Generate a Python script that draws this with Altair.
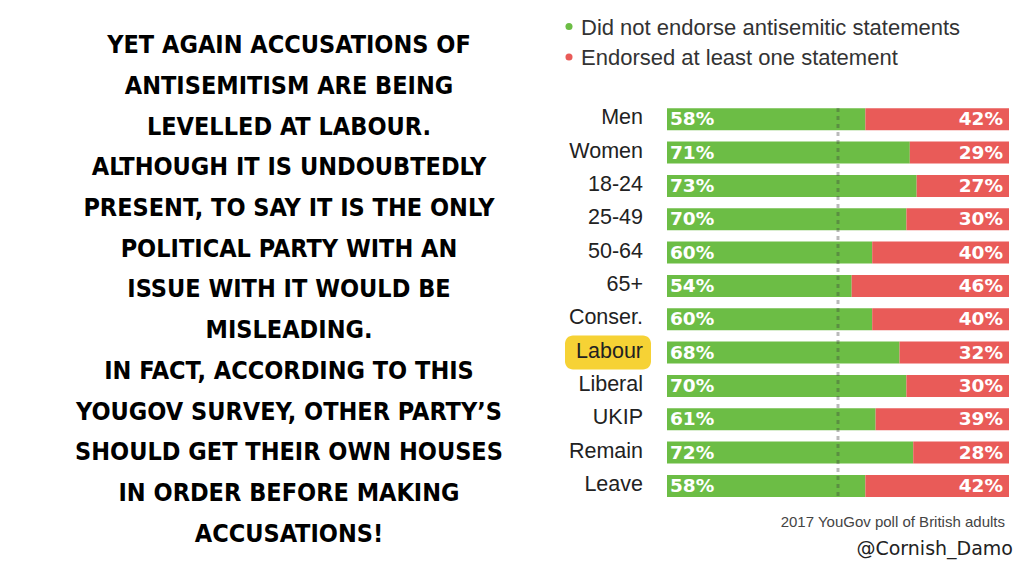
import altair as alt
import pandas as pd

# ---- data ----
categories = ["Men", "Women", "18-24", "25-49", "50-64", "65+", "Conser.",
              "Labour", "Liberal", "UKIP", "Remain", "Leave"]
not_endorsed = [58, 71, 73, 70, 60, 54, 60, 68, 70, 61, 72, 58]
endorsed = [42, 29, 27, 30, 40, 46, 40, 32, 30, 39, 28, 42]
series_names = ["Did not endorse antisemitic statements", "Endorsed at least one statement"]
highlight = "Labour"

headline = [
    "YET AGAIN ACCUSATIONS OF",
    "ANTISEMITISM ARE BEING",
    "LEVELLED AT LABOUR.",
    "ALTHOUGH IT IS UNDOUBTEDLY",
    "PRESENT, TO SAY IT IS THE ONLY",
    "POLITICAL PARTY WITH AN",
    "ISSUE WITH IT WOULD BE",
    "MISLEADING.",
    "IN FACT, ACCORDING TO THIS",
    "YOUGOV SURVEY, OTHER PARTY\u2019S",
    "SHOULD GET THEIR OWN HOUSES",
    "IN ORDER BEFORE MAKING",
    "ACCUSATIONS!",
]
source_note = "2017 YouGov poll of British adults"
handle = "@Cornish_Damo"

GREEN = "#6CBD45"
RED = "#E95B58"

# ---- tables ----
rows = []
for c, g, r in zip(categories, not_endorsed, endorsed):
    rows.append({"cat": c, "series": series_names[0], "start": 0, "end": g, "label": f"{g}%"})
    rows.append({"cat": c, "series": series_names[1], "start": g, "end": g + r, "label": f"{r}%"})
bars_df = pd.DataFrame(rows)
cat_df = pd.DataFrame({"cat": categories})
hl_df = pd.DataFrame({"cat": [highlight]})
mid_df = pd.DataFrame({"mid": [50]})
one = pd.DataFrame({"a": [0]})

xscale = alt.Scale(domain=[0, 100], range=[659, 1001], nice=False, zero=False)
yscale = alt.Scale(domain=categories, range=[94.6, 494.6], paddingInner=0.34, paddingOuter=0.17)

Y = alt.Y("cat:N", scale=yscale, axis=None, sort=categories)

hl = alt.Chart(hl_df).mark_bar(height=34, cornerRadius=8, color="#F6D235").encode(
    y=Y, x=alt.value(557), x2=alt.value(643)
)

cat_labels = alt.Chart(cat_df).mark_text(
    align="right", baseline="middle", fontSize=21.5, font="Liberation Sans", color="#222", dy=-1
).encode(y=Y, x=alt.value(635), text="cat:N")

bars = alt.Chart(bars_df).mark_bar().encode(
    y=Y,
    x=alt.X("start:Q", scale=xscale, axis=None),
    x2="end:Q",
    color=alt.Color("series:N", scale=alt.Scale(domain=series_names, range=[GREEN, RED]), legend=None),
)

rule = alt.Chart(mid_df).mark_rule(strokeDash=[4, 4], strokeWidth=3, color="#3a3a3a", opacity=0.35).encode(
    x=alt.X("mid:Q", scale=xscale, axis=None), y=alt.value(100), y2=alt.value(489)
)

pct_left = alt.Chart(bars_df[bars_df.series == series_names[0]]).mark_text(
    align="left", baseline="middle", fontSize=18.5, font="DejaVu Sans", fontWeight="bold", color="white", dx=3
).encode(y=Y, x=alt.X("start:Q", scale=xscale, axis=None), text="label:N")

pct_right = alt.Chart(bars_df[bars_df.series == series_names[1]]).mark_text(
    align="right", baseline="middle", fontSize=18.5, font="DejaVu Sans", fontWeight="bold", color="white", dx=-6
).encode(y=Y, x=alt.X("end:Q", scale=xscale, axis=None), text="label:N")

leg_dot1 = alt.Chart(one).mark_point(filled=True, size=50, color=GREEN, opacity=1).encode(
    x=alt.value(561), y=alt.value(18.5))
leg_dot2 = alt.Chart(one).mark_point(filled=True, size=50, color=RED, opacity=1).encode(
    x=alt.value(561), y=alt.value(49))
leg_t1 = alt.Chart(one).mark_text(
    text=series_names[0], align="left", baseline="alphabetic", fontSize=22, font="Liberation Sans", color="#333"
).encode(x=alt.value(573), y=alt.value(27))
leg_t2 = alt.Chart(one).mark_text(
    text=series_names[1], align="left", baseline="alphabetic", fontSize=22, font="Liberation Sans", color="#333"
).encode(x=alt.value(573), y=alt.value(57))

note = alt.Chart(one).mark_text(
    text=source_note, align="right", baseline="alphabetic", fontSize=15, font="Liberation Sans", color="#444"
).encode(x=alt.value(997), y=alt.value(519))
handle_t = alt.Chart(one).mark_text(
    text=handle, align="right", baseline="alphabetic", fontSize=19, font="DejaVu Sans", color="#222"
).encode(x=alt.value(1005), y=alt.value(547))

head = alt.Chart(one).mark_text(
    text=headline, lineHeight=40.7,
    align="center", baseline="alphabetic", fontSize=25, fontWeight="bold",
    font="DejaVu Sans Condensed", color="black"
).encode(x=alt.value(281), y=alt.value(45.3))

chart = alt.layer(
    hl, cat_labels, bars, rule, pct_left, pct_right,
    leg_dot1, leg_dot2, leg_t1, leg_t2, note, handle_t, head
).properties(
    width=1008, height=560, autosize=alt.AutoSizeParams(type="none"), padding=0,
    background="white"
).configure_view(stroke=None)

chart.save("out.html", embed_options={"renderer": "svg", "actions": False})
